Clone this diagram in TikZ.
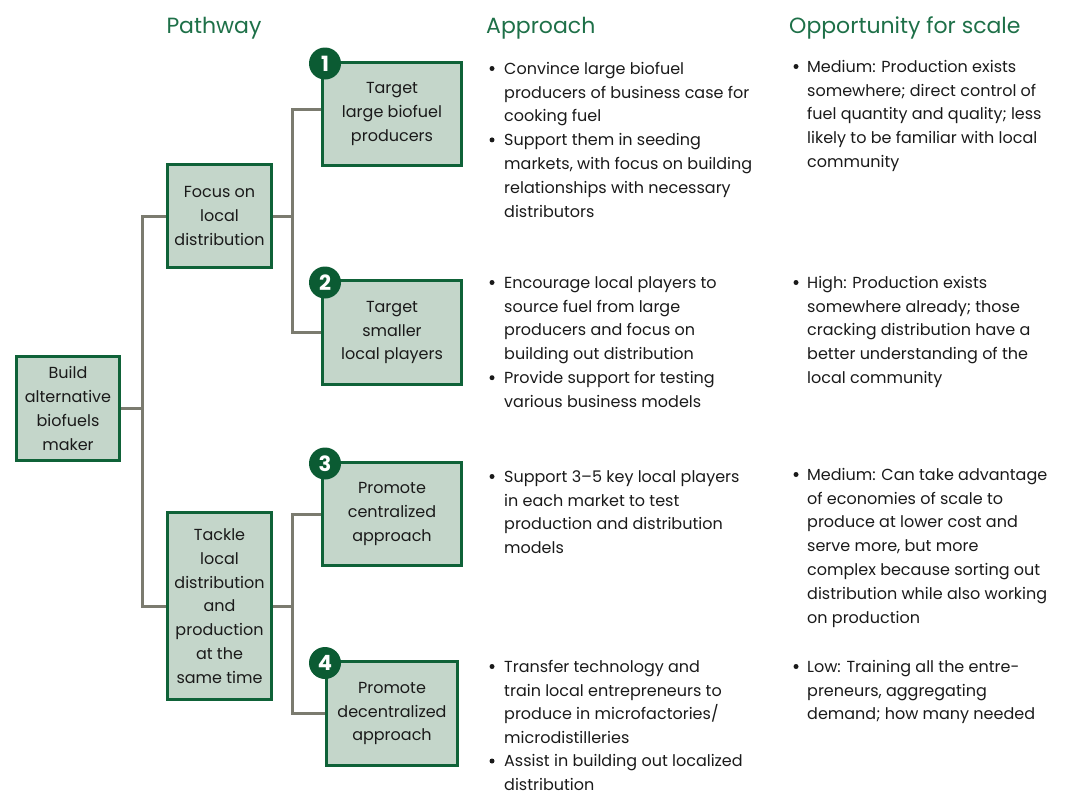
\documentclass[tikz,border=0pt]{standalone}
\usepackage{fontspec}
\setmainfont{Poppins}
\usetikzlibrary{backgrounds}
\definecolor{boxfill}{RGB}{196,214,202}
\definecolor{boxdraw}{RGB}{15,98,56}
\definecolor{conncol}{RGB}{123,123,111}
\definecolor{headcol}{RGB}{30,112,72}
\definecolor{badgecol}{RGB}{11,91,51}
\definecolor{textc}{RGB}{26,26,26}
\newcommand\bodyfnt{\fontsize{16}{23.8}\selectfont}
\newcommand\headfnt{\fontsize{22}{26}\selectfont}
\newcommand\badgefnt{\fontsize{21}{21}\selectfont\bfseries}
\begin{document}
\begin{tikzpicture}[x=1pt,y=-1pt,
  box/.style={draw=boxdraw, fill=boxfill, line width=3pt, align=center, inner sep=0pt, font=\bodyfnt, text=textc},
  conn/.style={draw=conncol, line width=3pt},
  badge/.style={circle, fill=badgecol, minimum size=32pt, inner sep=0pt, text=white, font=\badgefnt},
  head/.style={text=headcol, font=\headfnt, inner sep=0pt},
  body/.style={align=left, inner sep=0pt, anchor=north west, font=\bodyfnt, text=textc, yshift=16.66pt},
  bul/.style={circle, fill=textc, minimum size=5pt, inner sep=0pt}]
\useasboundingbox (0,0) rectangle (1067,796);
% headings
\node[head, anchor=base] (hpath) at (214,33) {Pathway};
\node[head, anchor=base west] (happ) at (486,33) {Approach};
\node[head, anchor=base west] (hopp) at (789,33) {Opportunity for scale};
% boxes
\node[box, minimum width=103pt, minimum height=104pt] (build) at (68,408.5) {Build\\alternative\\biofuels\\maker};
\node[box, minimum width=104pt, minimum height=103pt] (focus) at (219.5,216) {Focus on\\local\\distribution};
\node[box, minimum width=104pt, minimum height=187pt] (tackle) at (219.5,606) {Tackle\\local\\distribution\\and\\production\\at the\\same time};
\node[box, minimum width=139pt, minimum height=103pt] (t1) at (392,114) {Target\\large biofuel\\producers};
\node[box, minimum width=139pt, minimum height=104pt] (t2) at (392,332.5) {Target\\smaller\\local players};
\node[box, minimum width=139pt, minimum height=103pt] (t3) at (392,514) {Promote\\centralized\\approach};
\node[box, minimum width=131pt, minimum height=104pt] (t4) at (392,713.5) {Promote\\decentralized\\approach};
% connectors
\coordinate (tr1) at (142,0);
\coordinate (tr2) at (292,0);
\begin{scope}[on background layer]
\draw[conn] (build.east) -- (build.east -| tr1);
\draw[conn] (focus.west) -| (tr1 |- tackle.west) -- (tackle.west);
\draw[conn] (focus.east) -- (focus.east -| tr2);
\draw[conn] ([yshift=5pt]t1.west) -| (tr2 |- t2.west) -- (t2.west);
\draw[conn] (tackle.east) -- (tackle.east -| tr2);
\draw[conn] (t3.west) -| (tr2 |- t4.west) -- (t4.west);
\end{scope}
% badges
\node[badge] (b1) at (325,63.5) {1};
\node[badge] (b2) at (325,282.5) {2};
\node[badge] (b3) at (325,463.5) {3};
\node[badge] (b4) at (325,663) {4};
% approach column
\node[body] (a1a) at (504,74) {\strut Convince large biofuel\\producers of business case for\\cooking fuel};
\node[bul] (ba1a) at (492,68.5) {};
\node[body] (a1b) at (504,145.4) {\strut Support them in seeding\\markets, with focus on building\\relationships with necessary\\distributors};
\node[bul] (ba1b) at (492,139.9) {};
\node[body] (a2a) at (504,288) {\strut Encourage local players to\\source fuel from large\\producers and focus on\\building out distribution};
\node[bul] (ba2a) at (492,282.5) {};
\node[body] (a2b) at (504,383.2) {\strut Provide support for testing\\various business models};
\node[bul] (ba2b) at (492,377.7) {};
\node[body] (a3a) at (504,482) {\strut Support 3–5 key local players\\in each market to test\\production and distribution\\models};
\node[bul] (ba3a) at (492,476.5) {};
\node[body] (a4a) at (504,672) {\strut Transfer technology and\\train local entrepreneurs to\\produce in microfactories/\\microdistilleries};
\node[bul] (ba4a) at (492,666.5) {};
\node[body] (a4b) at (504,766.5) {\strut Assist in building out localized\\distribution};
\node[bul] (ba4b) at (492,761) {};
% opportunity column
\node[body] (o1) at (807,72) {\strut Medium: Production exists\\somewhere; direct control of\\fuel quantity and quality; less\\likely to be familiar with local\\community};
\node[bul] (bo1) at (796,66.5) {};
\node[body] (o2) at (807,288) {\strut High: Production exists\\somewhere already; those\\cracking distribution have a\\better understanding of the\\local community};
\node[bul] (bo2) at (796,282.5) {};
\node[body] (o3) at (807,480) {\strut Medium: Can take advantage\\of economies of scale to\\produce at lower cost and\\serve more, but more\\complex because sorting out\\distribution while also working\\on production};
\node[bul] (bo3) at (796,474.5) {};
\node[body] (o4) at (807,672) {\strut Low: Training all the entre-\\preneurs, aggregating\\demand; how many needed};
\node[bul] (bo4) at (796,666.5) {};
\end{tikzpicture}
\end{document}
